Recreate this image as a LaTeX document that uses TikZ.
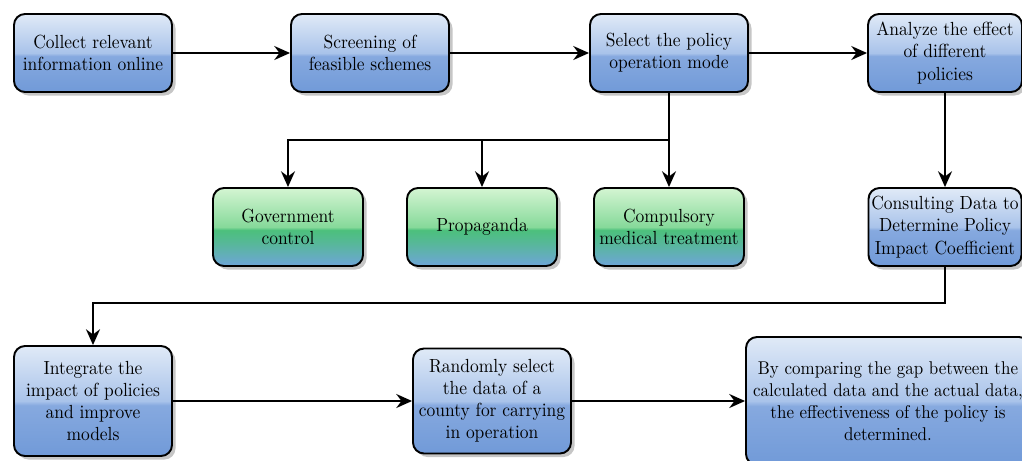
\documentclass[tikz,border=0pt]{standalone}
\usepackage{fontspec}
\setmainfont{Latin Modern Roman}[FakeStretch=0.92]
\usetikzlibrary{shapes, positioning, arrows, arrows.meta, shadows}

\definecolor{blueTop}{HTML}{E0EAF7}
\definecolor{blueUp}{HTML}{A9C3EA}
\definecolor{blueMid}{HTML}{86A9DF}
\definecolor{blueBot}{HTML}{719AD8}
\definecolor{greenTop}{HTML}{D4F5D2}
\definecolor{greenUp}{HTML}{86D99A}
\definecolor{greenMid}{HTML}{4CC07C}
\definecolor{greenBot}{HTML}{6EA5D8}

\pgfdeclareverticalshading{glossblue}{100bp}{color(0bp)=(blueBot); color(25bp)=(blueBot);
  color(48bp)=(blueMid); color(50bp)=(blueUp); color(75bp)=(blueTop); color(100bp)=(blueTop)}
\pgfdeclareverticalshading{glossgreen}{100bp}{color(0bp)=(greenBot); color(25bp)=(greenBot);
  color(40bp)=(greenMid!70!greenBot); color(48bp)=(greenMid); color(50bp)=(greenUp); color(75bp)=(greenTop); color(100bp)=(greenTop)}

\tikzset{
>={Stealth[length=9pt, width=8pt, inset=3pt]}, % arrow heads
node distance=5.5cm,
}
\tikzstyle{block} = [rectangle, draw=black, line width=1.1pt, rounded corners=0.22cm,
    shading=glossblue, drop shadow={shadow xshift=0.07cm, shadow yshift=-0.07cm, opacity=0.45},
    minimum width=3.16cm, minimum height=1.56cm, align=center, inner sep=1pt,
    font=\fontsize{10.8}{12.6}\selectfont]
\tikzstyle{option} = [block, shading=glossgreen, minimum width=3cm]
\tikzstyle{line} = [draw, line width=1.1pt, ->]

\begin{document}
\begin{tikzpicture}
\useasboundingbox (0,0) rectangle (20.44,-9.2);

\node [block] (collect) at (1.86,-1.06) {Collect relevant\\information online};
\node [block, right of=collect, node distance=5.54cm] (screen) {Screening of\\feasible schemes};
\node [block, right of=screen, node distance=5.98cm] (select) {Select the policy\\operation mode};
\node [block, right of=select, node distance=5.52cm, minimum width=3.08cm] (analyze) {Analyze the effect\\of different\\policies};
\node [block, below of=analyze, node distance=3.48cm, minimum width=3.06cm] (consult) {Consulting Data to\\Determine Policy\\Impact Coefficient};
\node [option, below of=select, node distance=3.48cm] (compul) {Compulsory\\medical treatment};
\node [option, left of=compul, node distance=3.74cm] (propa) {Propaganda};
\node [option, left of=propa, node distance=3.88cm] (govt) {Government\\control};
\coordinate [below of=select, node distance=1.74cm] (fork);

\node [block, minimum height=2.2cm] (integrate) at (1.86,-8.02) {Integrate the\\impact of policies\\and improve\\models};
\node [block, right of=integrate, node distance=7.98cm, minimum height=2.1cm] (randsel) {Randomly select\\the data of a\\county for carrying\\in operation};
\node [block, right of=randsel, node distance=7.92cm, minimum width=5.68cm, minimum height=2.56cm,
    font=\fontsize{10.5}{12.6}\selectfont] (compare) {By comparing the gap between the\\calculated data and the actual data,\\the effectiveness of the policy is\\determined.};

  \path [line] (collect) -- (screen);
  \path [line] (screen) -- (select);
  \path [line] (select) -- (analyze);
  \path [line] (analyze) -- (consult);
  \draw [line width=1.1pt] (select) -- (fork);
  \path [line] (fork) -| (govt);
  \path [line] (fork) -| (propa);
  \path [line] (fork) -- (compul);
  \path [line] (consult.south) -- ++(0,-0.72) -| (integrate);
  \path [line] (integrate) -- (randsel);
  \path [line] (randsel) -- (compare);

\end{tikzpicture}
\end{document}
